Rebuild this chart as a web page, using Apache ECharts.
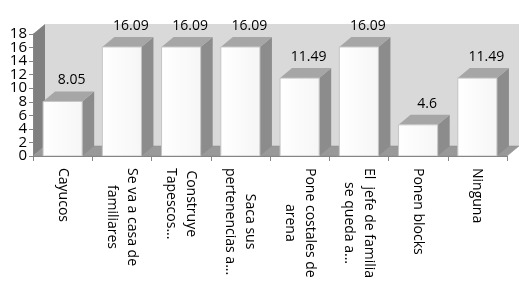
<!DOCTYPE html>
<html>
<head>
<meta charset="utf-8">
<script src="https://cdn.jsdelivr.net/npm/echarts@6/dist/echarts.min.js"></script>
<style>
html,body{margin:0;padding:0;background:#fff;}
#chart{width:524px;height:290px;}
</style>
</head>
<body>
<div id="chart"></div>
<script>
var categories = ['Cayucos', 'Se va a casa de\nfamiliares', 'Construye\nTapescos...', 'Saca sus\npertenencias a...',
	'Pone costales de\narena', 'El  jefe de familia\nse queda a...', 'Ponen blocks', 'Ninguna'];
var values = [8.05, 16.09, 16.09, 16.09, 11.49, 16.09, 4.6, 11.49];
var yTickLabels = [0, 2, 4, 6, 8, 10, 12, 14, 16, 18];

// profundidad del efecto 3D
var DX = 12, DY = -10;
var FONT = '"Open Sans", "DejaVu Sans", sans-serif';

/**
 * paredes del grafico (fondo, lado izquierdo, suelo) y etiquetas del eje y
 */
function renderWalls(params, api){
	var cs = params.coordSys;
	var x0 = cs.x, x1 = cs.x + cs.width;
	var yt = cs.y, yb = cs.y + cs.height;
	var children = [
		{type: 'rect', shape: {x: x0 + DX, y: yt + DY, width: x1 - x0, height: yb - yt},
			style: {fill: '#d9d9d9'}},
		{type: 'polygon', shape: {points: [[x0, yt], [x0 + DX, yt + DY], [x0 + DX, yb + DY], [x0, yb]]},
			style: {fill: '#808080'}},
		{type: 'polygon', shape: {points: [[x0, yb], [x1, yb], [x1 + DX, yb + DY], [x0 + DX, yb + DY]]},
			style: {fill: '#999999', stroke: '#8a8a8a', lineWidth: 0.5}}
	];
	// las etiquetas se tapan entre si, echarts oculta algunas -> se dibujan aqui
	for(var k = 0; k < yTickLabels.length; k++){
		var p = api.coord([0, yTickLabels[k]]);
		children.push({type: 'text', style: {text: String(yTickLabels[k]), x: x0 - 6, y: p[1],
			align: 'right', verticalAlign: 'middle', font: '15px ' + FONT, fill: '#000'}});
	}
	return {type: 'group', children: children};
}

/**
 * barras 3D
 */
function renderBar(params, api){
	var i = api.value(0), v = api.value(1);
	var top = api.coord([i, v]);
	var base = api.coord([i, 0]);
	var w = api.size([1, 0])[0] * 0.66;
	var xl = top[0] - w / 2, xr = top[0] + w / 2;
	var yt = top[1], yb = base[1];
	return {
		type: 'group',
		children: [
			{type: 'polygon', shape: {points: [[xr, yt], [xr + DX, yt + DY], [xr + DX, yb + DY], [xr, yb]]},
				style: {fill: '#8c8c8c'}},
			{type: 'polygon', shape: {points: [[xl, yt], [xl + DX, yt + DY], [xr + DX, yt + DY], [xr, yt]]},
				style: {fill: '#a6a6a6'}},
			{type: 'rect', shape: {x: xl, y: yt, width: w, height: yb - yt},
				style: {fill: new echarts.graphic.LinearGradient(0, 0, 1, 0, [
					{offset: 0, color: '#ffffff'}, {offset: 1, color: '#f6f6f6'}]),
					stroke: '#c4c4c4', lineWidth: 1}},
			{type: 'text', style: {text: String(v), x: top[0] + 9, y: yt + DY - 4,
				align: 'center', verticalAlign: 'bottom', font: '14px ' + FONT, fill: '#000'}}
		]
	};
}

var myChart = echarts.init(document.getElementById('chart'));
myChart.setOption({
	animation: false,
	grid: {left: 33, right: 17, top: 34, bottom: 134},
	xAxis: {
		type: 'category',
		data: categories,
		z: 5,
		axisLine: {lineStyle: {color: '#868686', width: 1}},
		axisTick: {show: true, length: 5, interval: 0, lineStyle: {color: '#868686'}},
		axisLabel: {
			interval: 0, rotate: -90, margin: 12, color: '#000',
			formatter: function(val){
				return val.split('\n').map(function(s){ return '{c|' + s + '}'; }).join('\n');
			},
			rich: {c: {align: 'center', fontSize: 14, lineHeight: 20, fontFamily: FONT, color: '#000'}}
		}
	},
	yAxis: {
		type: 'value',
		min: yTickLabels[0], max: yTickLabels[yTickLabels.length - 1], interval: 2,
		z: 5,
		splitLine: {show: false},
		axisLine: {show: true, lineStyle: {color: '#868686', width: 1}},
		axisTick: {show: true, length: 4, lineStyle: {color: '#868686'}},
		axisLabel: {show: false}
	},
	series: [
		{type: 'custom', silent: true, clip: false, z: 1, renderItem: renderWalls, data: [[0, 0]]},
		{type: 'custom', silent: true, clip: false, z: 2, renderItem: renderBar,
			encode: {x: 0, y: 1},
			data: values.map(function(v, i){ return [i, v]; })}
	]
});
</script>
</body>
</html>
